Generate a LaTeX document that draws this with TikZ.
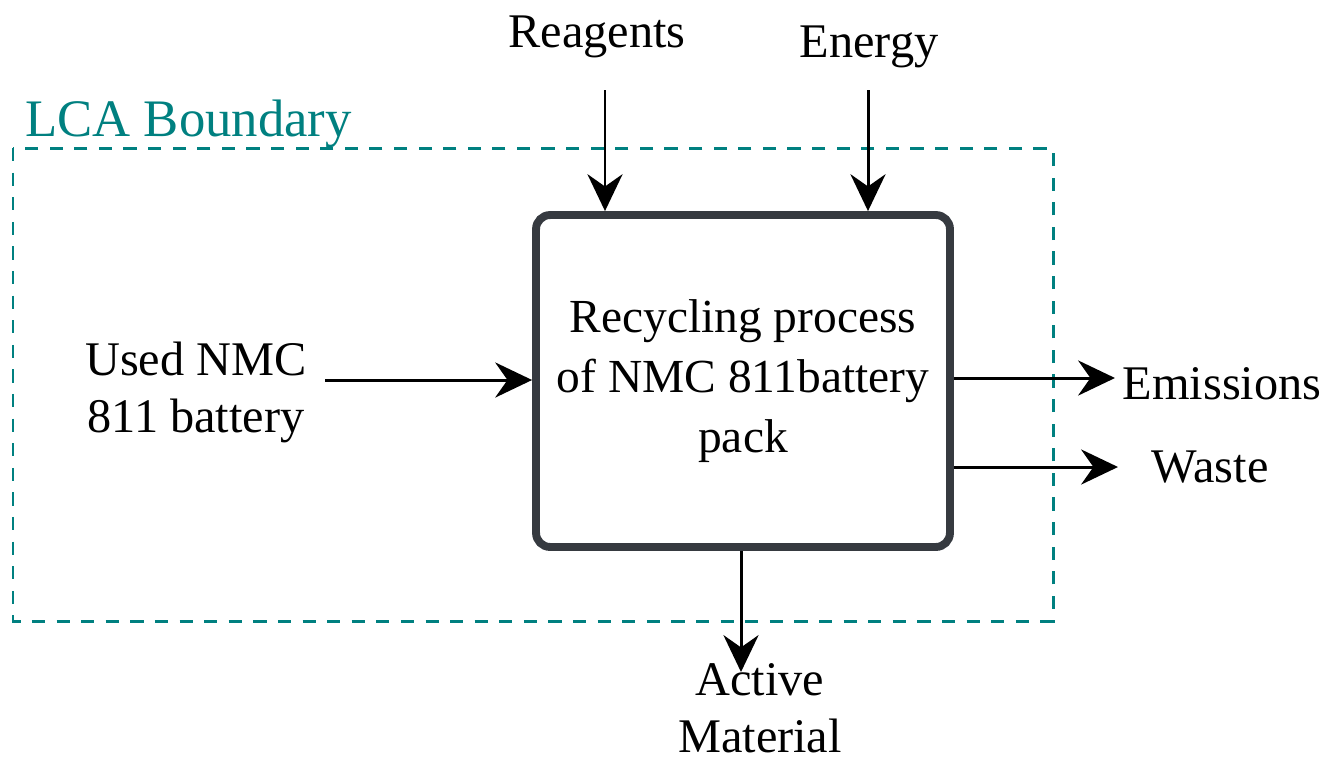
\documentclass[tikz,border=0pt]{standalone}
\usepackage{fontspec}
\newfontfamily\diagfont{Liberation Serif}
\usetikzlibrary{arrows.meta,positioning}
\definecolor{lcateal}{RGB}{0,128,128}
\definecolor{boxgrey}{RGB}{54,58,64}

\begin{document}
\begin{tikzpicture}[x=0.02cm, y=-0.02cm, >={Stealth[length=21pt,width=20pt,inset=7pt]},
    process/.style={rectangle, draw=boxgrey, line width=4.5pt, rounded corners=8pt, fill=white, minimum width=8.28cm, minimum height=6.64cm, align=center, font=\diagfont\fontsize{27}{34}\selectfont},
    txt/.style={inner sep=0pt, align=center, font=\diagfont\fontsize{27.5}{32.5}\selectfont},
    boundary/.style={draw=lcateal, line width=1.7pt, dash pattern=on 7.5pt off 6.5pt},
    line/.style={draw, ->, line width=1.7pt}]
    \useasboundingbox (0,0) rectangle (1326,762);

    % LCA Boundary
    \draw [boundary] (13,148) rectangle (1053,621);
    \node [txt, anchor=base west, text=lcateal, font=\diagfont\fontsize{30}{36}\selectfont] (lca) at (25,136) {LCA Boundary};

    % Process
    \node [process] (proc) at (743,381) {Recycling process\\ of NMC 811battery\\ pack};

    % Inputs
    \node [txt, anchor=base] (reag) at (597,47) {Reagents};
    \node [txt, anchor=base] (energy) at (869,57) {Energy};
    \node [txt] (used) at (196,392) {Used NMC\\ 811 battery};

    % Outputs
    \node [txt, anchor=base] (emis) at (1222,399) {Emissions};
    \node [txt, anchor=base] (waste) at (1210,482) {Waste};
    \node [txt] (active) at (760,708) {Active\\ Material};

    % Arrow ends
    \coordinate (reagin) at (605,90);
    \coordinate (energyin) at (868,90);
    \coordinate (usedin) at (325,380);
    \coordinate (emisout) at (1115,378);
    \coordinate (wasteout) at (1118,467);
    \coordinate (activeout) at (741,672);

    % Paths
    \path [line] (reagin) -- (reagin |- proc.north);
    \path [line] (energyin) -- (energyin |- proc.north);
    \path [line] (usedin) -- (usedin -| proc.west);
    \path [line] (emisout -| proc.east) -- (emisout);
    \path [line] (wasteout -| proc.east) -- (wasteout);
    \path [line] (activeout |- proc.south) -- (activeout);

\end{tikzpicture}
\end{document}
